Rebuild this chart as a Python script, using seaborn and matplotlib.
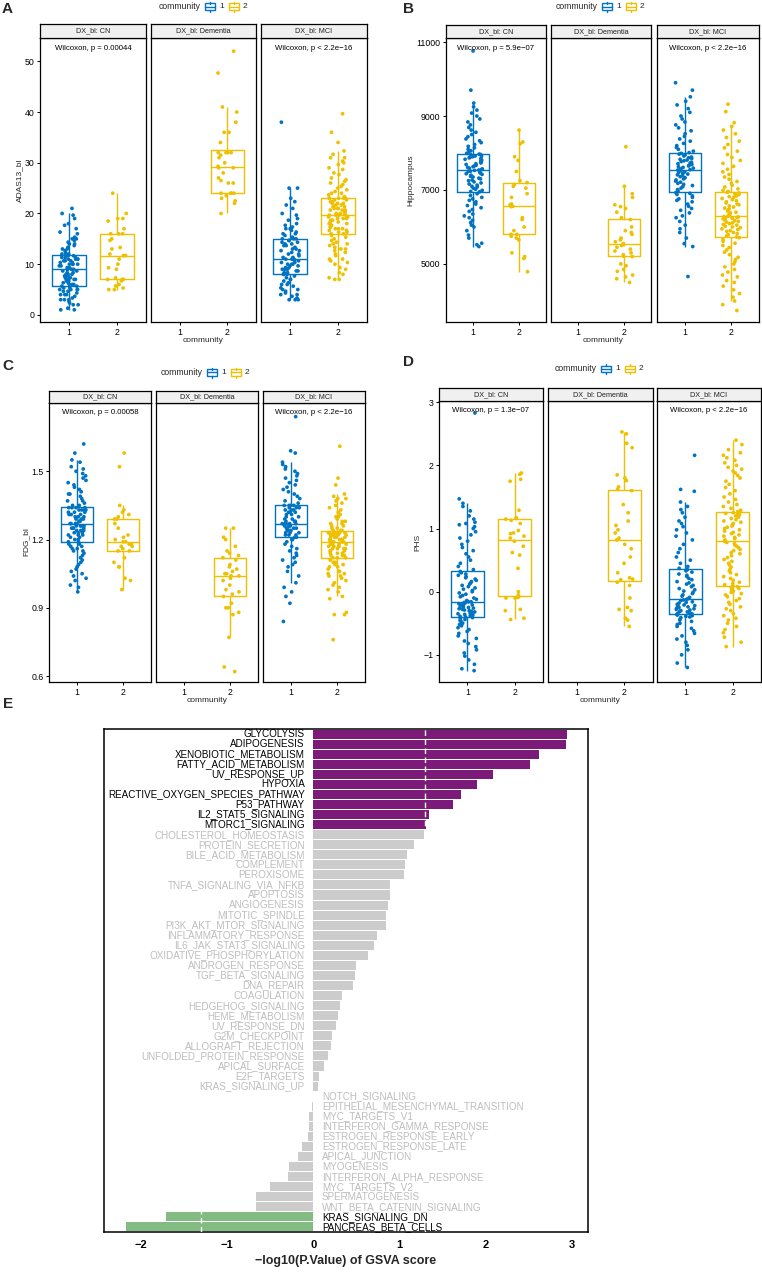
import numpy as np
import pandas as pd
import matplotlib
matplotlib.use('Agg')
import matplotlib.pyplot as plt
import seaborn as sns
from matplotlib.patches import Rectangle
from matplotlib.lines import Line2D

sns.set_style('white')
plt.rcParams['font.family'] = ['Liberation Sans', 'DejaVu Sans']

np.random.seed(7)  # only for the stripplot jitter

W, H = 762, 1274
BLUE = '#0073C2'
GOLD = '#EFC000'
PURPLE = '#8B0A89'
GREEN = '#78C679'
GREY_BAR = '#CCCCCC'
GREY_TXT = '#BDBDBD'

communities = ['1', '2']
dx_levels = ['CN', 'Dementia', 'MCI']

# ---------------- Panel A : ADAS13_bl ----------------
adas_cn_1 = [1, 1, 1.33, 2, 2, 2.33, 2.67, 3, 3, 3, 3.33, 3.67, 4, 4, 4, 4.33, 4.67, 4.67, 5, 5, 5, 5, 5.33, 5.33, 5.67,
             5.67, 6, 6, 6, 6.33, 6.33, 6.67, 6.67, 7, 7, 7, 7, 7.33, 7.33, 7.67, 7.67, 8, 8, 8, 8, 8.33, 8.33, 8.67, 8.67, 9,
             9, 9, 9, 9.33, 9.33, 9.67, 9.67, 10, 10, 10, 10, 10.33, 10.33, 10.67, 10.67, 10.67, 11, 11, 11, 11, 11.33, 11.33, 11.33, 11.67, 11.67,
             12, 12, 12, 12.33, 12.67, 13, 13, 13.33, 13.67, 14, 14, 14.33, 14.67, 15, 15, 15.33, 16, 16.33, 17, 17.67, 18, 19, 19.67, 20, 21]
adas_cn_2 = [5, 5, 5.3, 5.7, 6, 6.7, 7, 7, 7, 7.3, 9, 9.3, 10, 11, 11.7, 11.7, 12, 13, 13.3, 14.7, 15, 16, 16, 16, 17, 18.5, 19, 19, 20, 24]
adas_dem_2 = [20, 22, 22.5, 23, 23.5, 24, 24, 24, 24, 26, 26, 26.5, 27, 28, 29, 29, 29.3, 30, 31, 31.5, 32, 32, 32, 32, 34, 36, 36, 38, 40, 41, 47.7, 52]
adas_mci_1 = [3, 3, 3, 3.33, 3.67, 4, 4, 4.33, 4.67, 5, 5, 5.33, 5.67, 6, 6, 6.33, 6.67, 7, 7, 7.33, 7.67, 8,
              8, 8, 8.33, 8.33, 8.67, 8.67, 9, 9, 9, 9.33, 9.33, 9.67, 9.67, 10, 10, 10, 10.33, 10.33, 10.67, 10.67, 11, 11, 11,
              11, 11.33, 11.33, 11.67, 12, 12, 12.33, 12.67, 12.67, 13, 13, 13.33, 13.67, 13.67, 14, 14, 14.33, 14.33, 14.67, 14.67, 15, 15, 15,
              15.33, 15.67, 16, 16, 16.33, 16.67, 17, 17, 17.33, 17.67, 18, 18.67, 19, 19.67, 20, 21, 21.67, 22.33, 23, 25, 25, 38]
adas_mci_2 = [7, 7, 7.33, 8, 8.33, 9, 9.33, 10, 10.33, 10.67, 11, 11, 11.67, 12, 12.33, 12.67, 13, 13, 13.33, 13.67, 14, 14, 14.33, 14.67, 15, 15.33, 15.67,
              16, 16, 16.33, 16.33, 16.67, 16.67, 17, 17, 17, 17.33, 17.33, 17.67, 17.67, 18, 18, 18, 18.33, 18.33, 18.67, 18.67, 19, 19, 19, 19.33, 19.33, 19.67, 19.67, 19.67,
              19.67, 20, 20, 20, 20.33, 20.33, 20.67, 20.67, 20.67, 21, 21, 21, 21.33, 21.33, 21.67, 21.67, 22, 22, 22, 22.33, 22.33, 22.67, 22.67, 23, 23, 23, 23, 23,
              23.33, 23.67, 24, 24, 24.33, 24.67, 25, 25.33, 25.67, 26, 26.33, 26.67, 27, 27.67, 28, 28.67, 29, 29.67, 30, 30.33, 31, 31, 31.67, 32.33, 34, 36, 39.67]

# ---------------- Panel B : Hippocampus ----------------
hip_cn_1 = [5470, 5520, 5560, 5700, 5780, 5900, 6000, 6050, 6120, 6180, 6250, 6300, 6350, 6420, 6470, 6520, 6580, 6620, 6680, 6720, 6760, 6800, 6850, 6900, 6950,
            6960, 6990, 7020, 7050, 7080, 7100, 7130, 7160, 7190, 7220, 7250, 7270, 7300, 7320, 7350, 7370, 7400, 7420, 7440, 7460, 7480, 7500, 7510, 7530, 7540,
            7550, 7570, 7590, 7610, 7630, 7650, 7670, 7690, 7710, 7730, 7750, 7770, 7790, 7810, 7830, 7850, 7870, 7880, 7900, 7910, 7920, 7930, 7950, 7960, 7970,
            7990, 8020, 8060, 8100, 8140, 8180, 8230, 8280, 8330, 8380, 8440, 8500, 8560, 8620, 8690, 8760, 8840, 8920, 9000, 9080, 9160, 9250, 9350, 9700, 10760]
hip_cn_2 = [4790, 5150, 5200, 5300, 5650, 5700, 5750, 5800, 5800, 5900, 6000, 6200, 6250, 6550, 6560, 6600, 6620, 6800, 6900, 7050, 7100, 7150, 7200, 7250, 7500, 7800, 7900, 8250, 8300, 8620]
hip_dem_2 = [4500, 4600, 4650, 4700, 4800, 4850, 4950, 5000, 5200, 5210, 5250, 5300, 5350, 5400, 5450, 5500, 5520, 5550, 5600, 5650, 5700, 5800, 5850, 5900, 6000, 6200, 6250, 6400, 6500, 6550, 6600, 6800, 6900, 7100, 8170]
hip_mci_1 = [4660, 5470, 5550, 5700, 5850, 5950, 6050, 6150, 6250, 6300, 6380, 6450, 6500, 6560, 6620, 6680, 6720, 6760, 6800, 6840, 6880, 6910,
             6930, 6970, 7010, 7050, 7090, 7120, 7150, 7180, 7210, 7240, 7270, 7300, 7330, 7360, 7390, 7410, 7430, 7450, 7470, 7490, 7510, 7530, 7540,
             7550, 7570, 7590, 7610, 7630, 7650, 7670, 7690, 7710, 7730, 7750, 7770, 7790, 7810, 7830, 7850, 7870, 7890, 7920, 7950, 7970, 7990, 8010,
             8050, 8100, 8150, 8200, 8260, 8320, 8380, 8450, 8520, 8600, 8680, 8760, 8840, 8920, 9000, 9100, 9200, 9300, 9400, 9520, 9700, 9900]
hip_mci_2 = [3740, 3900, 4000, 4100, 4200, 4300, 4400, 4500, 4550, 4650, 4700, 4780, 4850, 4920, 5000, 5060, 5120, 5180, 5250, 5320, 5380, 5440, 5500, 5560, 5610, 5660, 5710,
             5730, 5760, 5790, 5820, 5850, 5880, 5900, 5930, 5950, 5980, 6000, 6020, 6050, 6070, 6090, 6110, 6130, 6150, 6170, 6190, 6200, 6220, 6230, 6240, 6250, 6260, 6270, 6280,
             6290, 6310, 6330, 6350, 6380, 6400, 6430, 6460, 6490, 6510, 6540, 6570, 6600, 6620, 6650, 6680, 6710, 6740, 6770, 6800, 6820, 6840, 6860, 6880, 6900, 6920, 6940, 6960,
             6990, 7030, 7080, 7130, 7180, 7230, 7290, 7350, 7420, 7490, 7560, 7640, 7720, 7800, 7880, 7960, 8050, 8140, 8230, 8320, 8420, 8520, 8620, 8720, 8820, 9120, 9320]

# ---------------- Panel C : FDG_bl ----------------
fdg_cn_1 = [0.97, 0.99, 1.00, 1.02, 1.03, 1.04, 1.05, 1.06, 1.07, 1.08, 1.09, 1.10, 1.11, 1.12, 1.13, 1.14, 1.15, 1.15, 1.16, 1.16, 1.17, 1.17, 1.18, 1.18, 1.19,
            1.19, 1.20, 1.20, 1.21, 1.21, 1.22, 1.22, 1.22, 1.23, 1.23, 1.23, 1.24, 1.24, 1.24, 1.25, 1.25, 1.25, 1.25, 1.26, 1.26, 1.26, 1.26, 1.27, 1.27, 1.27,
            1.27, 1.27, 1.28, 1.28, 1.28, 1.29, 1.29, 1.29, 1.30, 1.30, 1.30, 1.31, 1.31, 1.31, 1.32, 1.32, 1.32, 1.33, 1.33, 1.33, 1.33, 1.34, 1.34, 1.34, 1.34,
            1.35, 1.35, 1.36, 1.37, 1.37, 1.38, 1.39, 1.40, 1.40, 1.41, 1.42, 1.43, 1.44, 1.45, 1.46, 1.47, 1.48, 1.49, 1.50, 1.51, 1.52, 1.54, 1.55, 1.58, 1.62]
fdg_cn_2 = [0.98, 1.02, 1.03, 1.08, 1.08, 1.10, 1.12, 1.15, 1.15, 1.16, 1.17, 1.17, 1.18, 1.18, 1.19, 1.19, 1.20, 1.21, 1.22, 1.25, 1.27, 1.29, 1.29, 1.30, 1.31, 1.32, 1.33, 1.35, 1.52, 1.58]
fdg_dem_2 = [0.62, 0.64, 0.77, 0.87, 0.88, 0.90, 0.90, 0.92, 0.95, 0.96, 0.97, 0.98, 1.00, 1.02, 1.03, 1.04, 1.04, 1.05, 1.05, 1.06, 1.07, 1.08, 1.09, 1.11, 1.12, 1.13, 1.14, 1.15, 1.17, 1.20, 1.21, 1.25, 1.25]
fdg_mci_1 = [0.84, 0.92, 0.95, 0.97, 0.99, 1.01, 1.04, 1.06, 1.08, 1.09, 1.10, 1.11, 1.12, 1.13, 1.14, 1.15, 1.16, 1.17, 1.18, 1.19, 1.20, 1.20,
             1.21, 1.21, 1.22, 1.22, 1.22, 1.23, 1.23, 1.23, 1.24, 1.24, 1.24, 1.25, 1.25, 1.25, 1.25, 1.26, 1.26, 1.26, 1.26, 1.27, 1.27, 1.27, 1.27,
             1.27, 1.28, 1.28, 1.28, 1.29, 1.29, 1.30, 1.30, 1.31, 1.31, 1.32, 1.32, 1.32, 1.33, 1.33, 1.33, 1.34, 1.34, 1.34, 1.35, 1.35, 1.35, 1.35,
             1.36, 1.37, 1.38, 1.39, 1.40, 1.41, 1.42, 1.43, 1.44, 1.45, 1.46, 1.47, 1.48, 1.49, 1.50, 1.51, 1.52, 1.53, 1.54, 1.58, 1.59, 1.74]
fdg_mci_2 = [0.76, 0.87, 0.87, 0.88, 0.94, 0.95, 0.97, 0.98, 0.99, 1.00, 1.01, 1.02, 1.03, 1.04, 1.04, 1.05, 1.05, 1.06, 1.06, 1.07, 1.08, 1.08, 1.09, 1.09, 1.10, 1.10, 1.11,
             1.12, 1.12, 1.12, 1.13, 1.13, 1.13, 1.14, 1.14, 1.14, 1.15, 1.15, 1.15, 1.16, 1.16, 1.16, 1.16, 1.17, 1.17, 1.17, 1.17, 1.18, 1.18, 1.18, 1.18, 1.19, 1.19, 1.19, 1.19,
             1.19, 1.19, 1.20, 1.20, 1.20, 1.20, 1.20, 1.21, 1.21, 1.21, 1.21, 1.21, 1.22, 1.22, 1.22, 1.22, 1.22, 1.22, 1.23, 1.23, 1.23, 1.23, 1.23, 1.23, 1.23, 1.23, 1.23, 1.24,
             1.24, 1.24, 1.25, 1.25, 1.26, 1.26, 1.27, 1.27, 1.28, 1.28, 1.29, 1.30, 1.30, 1.31, 1.32, 1.33, 1.34, 1.35, 1.36, 1.37, 1.38, 1.38, 1.39, 1.40, 1.44, 1.47, 1.61]

# ---------------- Panel D : PHS ----------------
phs_cn_1 = [-1.25, -1.22, -1.15, -1.08, -1.02, -0.97, -0.92, -0.87, -0.82, -0.78, -0.74, -0.70, -0.66, -0.63, -0.60, -0.57, -0.54, -0.52, -0.50, -0.48, -0.46, -0.45, -0.44, -0.43, -0.41,
            -0.40, -0.39, -0.38, -0.37, -0.36, -0.35, -0.34, -0.33, -0.32, -0.31, -0.30, -0.29, -0.28, -0.27, -0.26, -0.25, -0.24, -0.23, -0.22, -0.21, -0.20, -0.19, -0.18, -0.17, -0.16,
            -0.16, -0.14, -0.12, -0.10, -0.08, -0.06, -0.04, -0.02, 0.00, 0.02, 0.04, 0.06, 0.08, 0.10, 0.12, 0.14, 0.16, 0.18, 0.20, 0.22, 0.24, 0.26, 0.28, 0.30, 0.32,
            0.35, 0.40, 0.45, 0.50, 0.55, 0.60, 0.65, 0.70, 0.75, 0.80, 0.85, 0.90, 0.95, 1.00, 1.03, 1.06, 1.08, 1.10, 1.15, 1.20, 1.28, 1.35, 1.40, 1.47, 2.83]
phs_cn_2 = [-0.44, -0.42, -0.30, -0.28, -0.10, -0.10, -0.09, -0.08, -0.05, 0.00, 0.37, 0.58, 0.62, 0.72, 0.80, 0.85, 0.88, 0.92, 0.93, 0.97, 1.08, 1.13, 1.15, 1.16, 1.17, 1.29, 1.75, 1.78, 1.86, 1.88]
phs_dem_2 = [-0.55, -0.45, -0.42, -0.30, -0.28, -0.25, -0.10, 0.10, 0.15, 0.19, 0.20, 0.22, 0.30, 0.45, 0.55, 0.68, 0.75, 0.82, 0.85, 0.93, 0.98, 1.05, 1.12, 1.25, 1.38, 1.60, 1.62, 1.66, 1.76, 1.80, 1.85, 2.28, 2.35, 2.50, 2.53]
phs_mci_1 = [-1.20, -1.13, -1.00, -0.92, -0.85, -0.80, -0.75, -0.70, -0.66, -0.62, -0.58, -0.55, -0.52, -0.50, -0.47, -0.45, -0.43, -0.41, -0.40, -0.39, -0.38, -0.37,
             -0.36, -0.35, -0.34, -0.33, -0.32, -0.31, -0.30, -0.29, -0.28, -0.27, -0.26, -0.25, -0.24, -0.23, -0.22, -0.21, -0.20, -0.18, -0.17, -0.16, -0.14, -0.13, -0.12,
             -0.11, -0.09, -0.07, -0.05, -0.03, -0.01, 0.01, 0.03, 0.05, 0.08, 0.10, 0.12, 0.14, 0.16, 0.19, 0.21, 0.24, 0.26, 0.28, 0.31, 0.33, 0.35, 0.37,
             0.40, 0.45, 0.50, 0.55, 0.62, 0.68, 0.75, 0.82, 0.88, 0.93, 0.98, 1.03, 1.08, 1.12, 1.18, 1.25, 1.30, 1.35, 1.42, 1.59, 1.62, 2.16]
phs_mci_2 = [-0.87, -0.80, -0.72, -0.65, -0.60, -0.55, -0.50, -0.45, -0.42, -0.38, -0.35, -0.30, -0.27, -0.24, -0.20, -0.17, -0.14, -0.11, -0.08, -0.05, -0.03, -0.01, 0.01, 0.03, 0.05, 0.07, 0.08,
             0.09, 0.11, 0.13, 0.15, 0.18, 0.21, 0.24, 0.27, 0.30, 0.33, 0.36, 0.39, 0.42, 0.45, 0.48, 0.51, 0.54, 0.57, 0.60, 0.62, 0.65, 0.67, 0.70, 0.72, 0.74, 0.76, 0.78, 0.79,
             0.80, 0.82, 0.84, 0.86, 0.88, 0.90, 0.92, 0.94, 0.96, 0.98, 1.00, 1.02, 1.04, 1.06, 1.08, 1.10, 1.12, 1.14, 1.16, 1.18, 1.20, 1.21, 1.22, 1.23, 1.24, 1.25, 1.26, 1.27,
             1.29, 1.32, 1.35, 1.38, 1.42, 1.46, 1.50, 1.55, 1.60, 1.65, 1.70, 1.75, 1.80, 1.84, 1.88, 1.91, 1.94, 1.97, 2.00, 2.04, 2.08, 2.12, 2.16, 2.20, 2.25, 2.33, 2.40]

pvals_A = ['Wilcoxon, p = 0.00044', None, 'Wilcoxon, p < 2.2e\u221216']
pvals_B = ['Wilcoxon, p = 5.9e\u221207', None, 'Wilcoxon, p < 2.2e\u221216']
pvals_C = ['Wilcoxon, p = 0.00058', None, 'Wilcoxon, p < 2.2e\u221216']
pvals_D = ['Wilcoxon, p = 1.3e\u221207', None, 'Wilcoxon, p < 2.2e\u221216']

# ---------------- Panel E : GSVA ----------------
pathways = ['GLYCOLYSIS', 'ADIPOGENESIS', 'XENOBIOTIC_METABOLISM', 'FATTY_ACID_METABOLISM', 'UV_RESPONSE_UP',
            'HYPOXIA', 'REACTIVE_OXYGEN_SPECIES_PATHWAY', 'P53_PATHWAY', 'IL2_STAT5_SIGNALING', 'MTORC1_SIGNALING',
            'CHOLESTEROL_HOMEOSTASIS', 'PROTEIN_SECRETION', 'BILE_ACID_METABOLISM', 'COMPLEMENT', 'PEROXISOME',
            'TNFA_SIGNALING_VIA_NFKB', 'APOPTOSIS', 'ANGIOGENESIS', 'MITOTIC_SPINDLE', 'PI3K_AKT_MTOR_SIGNALING',
            'INFLAMMATORY_RESPONSE', 'IL6_JAK_STAT3_SIGNALING', 'OXIDATIVE_PHOSPHORYLATION', 'ANDROGEN_RESPONSE', 'TGF_BETA_SIGNALING',
            'DNA_REPAIR', 'COAGULATION', 'HEDGEHOG_SIGNALING', 'HEME_METABOLISM', 'UV_RESPONSE_DN',
            'G2M_CHECKPOINT', 'ALLOGRAFT_REJECTION', 'UNFOLDED_PROTEIN_RESPONSE', 'APICAL_SURFACE', 'E2F_TARGETS',
            'KRAS_SIGNALING_UP', 'NOTCH_SIGNALING', 'EPITHELIAL_MESENCHYMAL_TRANSITION', 'MYC_TARGETS_V1', 'INTERFERON_GAMMA_RESPONSE',
            'ESTROGEN_RESPONSE_EARLY', 'ESTROGEN_RESPONSE_LATE', 'APICAL_JUNCTION', 'MYOGENESIS', 'INTERFERON_ALPHA_RESPONSE',
            'MYC_TARGETS_V2', 'SPERMATOGENESIS', 'WNT_BETA_CATENIN_SIGNALING', 'KRAS_SIGNALING_DN', 'PANCREAS_BETA_CELLS']
gsva_scores = [2.95, 2.93, 2.62, 2.52, 2.09,
               1.90, 1.72, 1.62, 1.34, 1.31,
               1.29, 1.17, 1.09, 1.07, 1.05,
               0.89, 0.89, 0.87, 0.84, 0.84,
               0.74, 0.71, 0.64, 0.50, 0.49,
               0.46, 0.33, 0.31, 0.29, 0.26,
               0.22, 0.21, 0.17, 0.12, 0.07,
               0.06, -0.004, -0.02, -0.05, -0.05,
               -0.06, -0.13, -0.18, -0.28, -0.29,
               -0.50, -0.66, -0.67, -1.71, -2.17]
sig_cut = 1.301  # -log10(0.05)

# ---------------------------------------------------------------
fig = plt.figure(figsize=(W / 100, H / 100), dpi=100)
pal = {'1': BLUE, '2': GOLD}


def ax_px(x0, x1, y0, y1):
    return fig.add_axes([x0 / W, 1 - y1 / H, (x1 - x0) / W, (y1 - y0) / H])


def fx(x):
    return x / W


def fy(y):
    return 1 - y / H


def long_df(groups):
    rows = []
    for (dx, com), vals in groups.items():
        for v in vals:
            rows.append((dx, com, v))
    return pd.DataFrame(rows, columns=['dx', 'community', 'value'])


def box_key(x0, yc, col):
    """ggplot-like boxplot legend key drawn in pixel coordinates."""
    w, h, stub = 10, 6, 2
    fig.add_artist(Rectangle((fx(x0), fy(yc + h / 2)), w / W, h / H, transform=fig.transFigure,
                             facecolor='white', edgecolor=col, linewidth=1.0))
    xc = x0 + w / 2
    fig.add_artist(Line2D([fx(x0), fx(x0 + w)], [fy(yc), fy(yc)], transform=fig.transFigure,
                          color=col, linewidth=1.0))
    fig.add_artist(Line2D([fx(xc), fx(xc)], [fy(yc - h / 2 - stub), fy(yc - h / 2)], transform=fig.transFigure,
                          color=col, linewidth=1.0))
    fig.add_artist(Line2D([fx(xc), fx(xc)], [fy(yc + h / 2), fy(yc + h / 2 + stub)], transform=fig.transFigure,
                          color=col, linewidth=1.0))


def draw_panel(df, cfg):
    top, bot = cfg['top'], cfg['bottom']
    s0 = cfg['strip_top']
    for i, dx in enumerate(dx_levels):
        x0, x1 = cfg['facets'][i]
        ax = ax_px(x0, x1, top, bot)
        sub = df[df['dx'] == dx]
        sns.boxplot(data=sub, x='community', y='value', hue='community', order=communities,
                    hue_order=communities, palette=pal, fill=False, width=0.7, showfliers=False,
                    showcaps=False, linewidth=1.0, legend=False, ax=ax)
        sns.stripplot(data=sub, x='community', y='value', hue='community', order=communities,
                      hue_order=communities, palette=pal, jitter=0.2, size=2.7, linewidth=0,
                      legend=False, ax=ax, zorder=3)
        ax.set_xlim(-0.6, 1.6)
        ax.set_ylim(*cfg['ylim'])
        ax.set_xlabel('')
        ax.set_ylabel('')
        ax.set_xticks([0, 1])
        ax.set_xticklabels(communities)
        if i == 0:
            ax.set_yticks(cfg['yticks'])
            ax.set_yticklabels(cfg['yticklabels'])
        else:
            ax.set_yticks([])
        ax.tick_params(axis='both', direction='out', length=2.5, width=0.7, colors='black',
                       labelsize=6.3, pad=1.5, left=(i == 0), bottom=True)
        for sp in ax.spines.values():
            sp.set_visible(True)
            sp.set_color('black')
            sp.set_linewidth(0.9)
        if cfg['pvals'][i]:
            ax.text(0.5, 1 - 10.0 / (bot - top), cfg['pvals'][i], transform=ax.transAxes,
                    ha='center', va='center', fontsize=5.6, color='black')
        sax = ax_px(x0, x1, s0, top)
        sax.set_facecolor('#F0F0F0')
        sax.set_xticks([])
        sax.set_yticks([])
        for sp in sax.spines.values():
            sp.set_visible(True)
            sp.set_color('black')
            sp.set_linewidth(0.9)
        sax.text(0.5, 0.5, 'DX_bl: ' + dx, transform=sax.transAxes, ha='center', va='center',
                 fontsize=5.2, color='#222222')
    fig.text(fx(cfg['ylab_xy'][0]), fy(cfg['ylab_xy'][1]), cfg['ylabel'], rotation=90,
             ha='center', va='center', fontsize=6)
    fig.text(fx(cfg['xlab_xy'][0]), fy(cfg['xlab_xy'][1]), 'community',
             ha='center', va='center', fontsize=6)
    # legend: "community  [key] 1  [key] 2"
    lx, ly = cfg['leg_xy']
    fig.text(fx(lx), fy(ly), 'community', ha='right', va='center', fontsize=6.2)
    box_key(lx + 4, ly, pal['1'])
    fig.text(fx(lx + 18), fy(ly), '1', ha='left', va='center', fontsize=6)
    box_key(lx + 28, ly, pal['2'])
    fig.text(fx(lx + 42), fy(ly), '2', ha='left', va='center', fontsize=6)
    fig.text(fx(cfg['letter_xy'][0]), fy(cfg['letter_xy'][1]), cfg['letter'],
             ha='left', va='center', fontsize=11, fontweight='bold')


dfA = long_df({('CN', '1'): adas_cn_1, ('CN', '2'): adas_cn_2, ('Dementia', '2'): adas_dem_2,
               ('MCI', '1'): adas_mci_1, ('MCI', '2'): adas_mci_2})
dfB = long_df({('CN', '1'): hip_cn_1, ('CN', '2'): hip_cn_2, ('Dementia', '2'): hip_dem_2,
               ('MCI', '1'): hip_mci_1, ('MCI', '2'): hip_mci_2})
dfC = long_df({('CN', '1'): fdg_cn_1, ('CN', '2'): fdg_cn_2, ('Dementia', '2'): fdg_dem_2,
               ('MCI', '1'): fdg_mci_1, ('MCI', '2'): fdg_mci_2})
dfD = long_df({('CN', '1'): phs_cn_1, ('CN', '2'): phs_cn_2, ('Dementia', '2'): phs_dem_2,
               ('MCI', '1'): phs_mci_1, ('MCI', '2'): phs_mci_2})

cfgA = dict(facets=[(40, 146), (151, 256), (261, 367)], top=38, bottom=322, strip_top=24,
            ylim=(-1.4, 54.6), yticks=[0, 10, 20, 30, 40, 50], yticklabels=['0', '10', '20', '30', '40', '50'],
            pvals=pvals_A, ylabel='ADAS13_bl', ylab_xy=(20, 180), xlab_xy=(203, 341),
            leg_xy=(201, 6.5), letter='A', letter_xy=(2, 9))
cfgB = dict(facets=[(446, 546), (551, 651), (657, 759)], top=38, bottom=322, strip_top=25,
            ylim=(3430, 11110), yticks=[5000, 7000, 9000, 11000], yticklabels=['5000', '7000', '9000', '11000'],
            pvals=pvals_B, ylabel='Hippocampus', ylab_xy=(411, 180), xlab_xy=(603, 341),
            leg_xy=(598, 6.5), letter='B', letter_xy=(403, 9))
cfgC = dict(facets=[(49, 151), (156, 258), (263, 365)], top=403, bottom=682, strip_top=391,
            ylim=(0.574, 1.80), yticks=[0.6, 0.9, 1.2, 1.5], yticklabels=['0.6', '0.9', '1.2', '1.5'],
            pvals=pvals_C, ylabel='FDG_bl', ylab_xy=(26, 542), xlab_xy=(207, 701),
            leg_xy=(203, 372.5), letter='C', letter_xy=(2, 366))
cfgD = dict(facets=[(439, 543), (548, 653), (657, 761)], top=401, bottom=682, strip_top=388,
            ylim=(-1.43, 3.02), yticks=[-1, 0, 1, 2, 3], yticklabels=['\u22121', '0', '1', '2', '3'],
            pvals=pvals_D, ylabel='PHS', ylab_xy=(418, 542), xlab_xy=(600, 701),
            leg_xy=(597, 369), letter='D', letter_xy=(403, 362))

for d, c in [(dfA, cfgA), (dfB, cfgB), (dfC, cfgC), (dfD, cfgD)]:
    draw_panel(d, c)

# ---------------- Panel E ----------------
gsva = pd.DataFrame({'pathway': pathways, 'score': gsva_scores})
gsva['group'] = np.where(gsva['score'] > sig_cut, 'up', np.where(gsva['score'] < -sig_cut, 'down', 'ns'))
axE = ax_px(104, 588, 729, 1232)
sns.barplot(data=gsva, x='score', y='pathway', hue='group', order=pathways,
            hue_order=['up', 'ns', 'down'], palette={'up': PURPLE, 'ns': GREY_BAR, 'down': GREEN},
            dodge=False, width=0.9, orient='h', errorbar=None, legend=False, linewidth=0, ax=axE)
axE.axvline(sig_cut, color='white', linestyle=(0, (4, 2.5)), linewidth=1.0, zorder=3)
axE.axvline(-sig_cut, color='white', linestyle=(0, (4, 2.5)), linewidth=1.0, zorder=3)
for i, (p, s, g) in enumerate(zip(gsva['pathway'], gsva['score'], gsva['group'])):
    col = 'black' if g != 'ns' else GREY_TXT
    if s > 0:
        axE.text(-0.1, i, p, ha='right', va='center', fontsize=7.1, color=col, zorder=4)
    else:
        axE.text(0.1, i, p, ha='left', va='center', fontsize=7.1, color=col, zorder=4)
axE.set_xlim(-2.43, 3.19)
axE.set_ylim(len(pathways) - 0.5, -0.5)
axE.set_yticks([])
axE.set_ylabel('')
axE.set_xticks([-2, -1, 0, 1, 2, 3])
axE.set_xticklabels(['\u22122', '\u22121', '0', '1', '2', '3'], fontweight='bold')
axE.tick_params(axis='x', direction='out', length=3.5, width=1.0, colors='black', labelsize=8, pad=2)
axE.set_xlabel('\u2212log10(P.Value) of GSVA score', fontsize=9, fontweight='bold', labelpad=4)
for sp in axE.spines.values():
    sp.set_visible(True)
    sp.set_color('black')
    sp.set_linewidth(1.1)
fig.text(fx(3), fy(704), 'E', ha='left', va='center', fontsize=11, fontweight='bold')

fig.savefig('out.png', dpi=100)
